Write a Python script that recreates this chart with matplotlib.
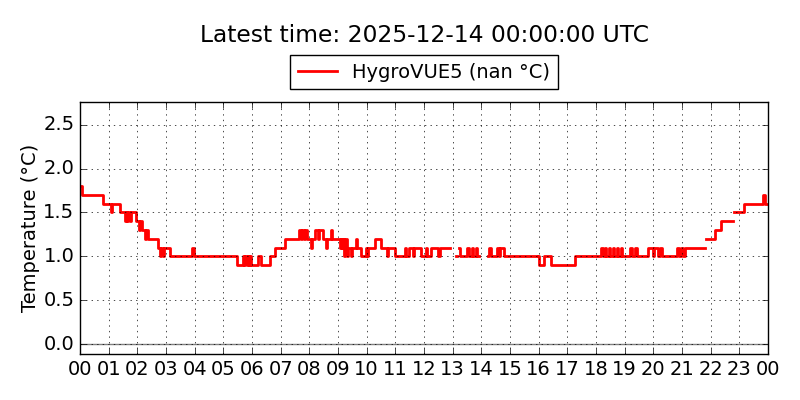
import matplotlib
matplotlib.use("Agg")
import matplotlib.pyplot as plt
import numpy as np

plt.style.use("classic")

# ── Data: change points (hours since midnight) and temperature (°C) ──
# NaN marks a gap in the record
hours = [
    0.00, 0.07, 0.80, 1.08, 1.13, 1.38, 1.56, 1.60, 1.65, 1.69, 1.75, 1.79,
    1.96, 2.05, 2.10, 2.15, 2.25, 2.30, 2.36, 2.72, 2.78, 2.82, 2.88, 2.92,
    3.13, 3.92, 3.96, 5.48, 5.68, 5.72, 5.77, 5.81, 5.86, 5.90, 5.94, 5.98,
    6.22, 6.30, 6.62, 6.79, 7.14, 7.64, 7.70, 7.74, 7.80, 7.84, 7.92, 8.06,
    8.10, 8.20, 8.30, 8.34, 8.46, 8.58, 8.63, 8.74, 8.80, 9.06, 9.10, 9.14,
    9.18, 9.22, 9.26, 9.30, 9.36, 9.45, 9.50, 9.62, 9.68, 9.80, 9.98, 10.02,
    10.06, 10.28, 10.50, 10.72, 10.76, 11.00, 11.32, 11.36, 11.46, 11.62, 11.66, 11.90,
    12.00, 12.06, 12.10, 12.24, 12.48, 12.55, 12.90, 13.10, 13.14, 13.22, 13.26, 13.50,
    13.58, 13.66, 13.72, 13.80, 13.86, 13.92, 14.22, 14.28, 14.34, 14.54, 14.60, 14.64,
    14.80, 15.94, 15.97, 16.00, 16.20, 16.44, 17.25, 18.18, 18.24, 18.30, 18.36, 18.44,
    18.50, 18.58, 18.64, 18.72, 18.78, 18.86, 18.92, 19.00, 19.20, 19.26, 19.36, 19.42,
    19.80, 20.00, 20.04, 20.18, 20.22, 20.30, 20.82, 20.88, 20.98, 21.04, 21.10, 21.79,
    21.82, 22.14, 22.37, 22.78, 22.81, 23.18, 23.82, 23.88, 24.00,
]
temps = [
    1.8, 1.7, 1.6, 1.5, 1.6, 1.5, 1.4, 1.5, 1.4, 1.5, 1.4, 1.5,
    1.4, 1.3, 1.4, 1.3, 1.2, 1.3, 1.2, 1.1, 1.0, 1.1, 1.0, 1.1,
    1.0, 1.1, 1.0, 0.9, 1.0, 0.9, 1.0, 0.9, 1.0, 0.9, 1.0, 0.9,
    1.0, 0.9, 1.0, 1.1, 1.2, 1.3, 1.2, 1.3, 1.2, 1.3, 1.2, 1.1,
    1.2, 1.3, 1.2, 1.3, 1.2, 1.1, 1.2, 1.3, 1.2, 1.1, 1.2, 1.1,
    1.2, 1.0, 1.2, 1.0, 1.1, 1.0, 1.1, 1.2, 1.1, 1.0, 1.1, 1.0,
    1.1, 1.2, 1.1, 1.0, 1.1, 1.0, 1.1, 1.0, 1.1, 1.0, 1.1, 1.0,
    1.0, 1.1, 1.0, 1.1, 1.0, 1.1, np.nan, 1.0, np.nan, 1.1, 1.0, 1.1,
    1.0, 1.1, 1.0, 1.1, 1.0, np.nan, 1.0, 1.1, 1.0, 1.1, 1.0, 1.1,
    1.0, np.nan, 1.0, 0.9, 1.0, 0.9, 1.0, 1.1, 1.0, 1.1, 1.0, 1.1,
    1.0, 1.1, 1.0, 1.1, 1.0, 1.1, 1.0, 1.0, 1.1, 1.0, 1.1, 1.0,
    1.1, 1.0, 1.1, 1.0, 1.1, 1.0, 1.1, 1.0, 1.1, 1.0, 1.1, np.nan,
    1.2, 1.3, 1.4, np.nan, 1.5, 1.6, 1.7, 1.6, 1.6,
]
hour_labels = ["%02d" % (h % 24) for h in range(25)]
y_ticks = [0.0, 0.5, 1.0, 1.5, 2.0, 2.5]

fig = plt.figure(figsize=(8, 4), dpi=100, facecolor="white")
ax = fig.add_axes([0.1, 0.115, 0.86, 0.63])
ax.set_facecolor("white")

ax.plot(hours, temps, color="red", lw=2, drawstyle="steps-post",
        label="HygroVUE5 (nan °C)")
ax.axhline(0, color="gray", lw=1, zorder=0)

ax.set_xlim(0, 24)
ax.set_xticks(range(25))
ax.set_xticklabels(hour_labels)
ax.set_ylim(-0.114, 2.76)
ax.set_yticks(y_ticks)
ax.set_ylabel("Temperature (°C)", fontsize=14)
ax.yaxis.set_label_coords(-0.058, 0.5)
ax.tick_params(labelsize=14)
ax.grid(True)

# title and legend centred over the axes
fig.text(0.53, 0.912, "Latest time: 2025-12-14 00:00:00 UTC",
         fontsize=16.8, ha="center", va="center")
ax.legend(loc="upper center", bbox_to_anchor=(0.53, 0.8875),
          bbox_transform=fig.transFigure, fontsize=14, numpoints=1)

fig.savefig("out.png", dpi=100, facecolor="white")
